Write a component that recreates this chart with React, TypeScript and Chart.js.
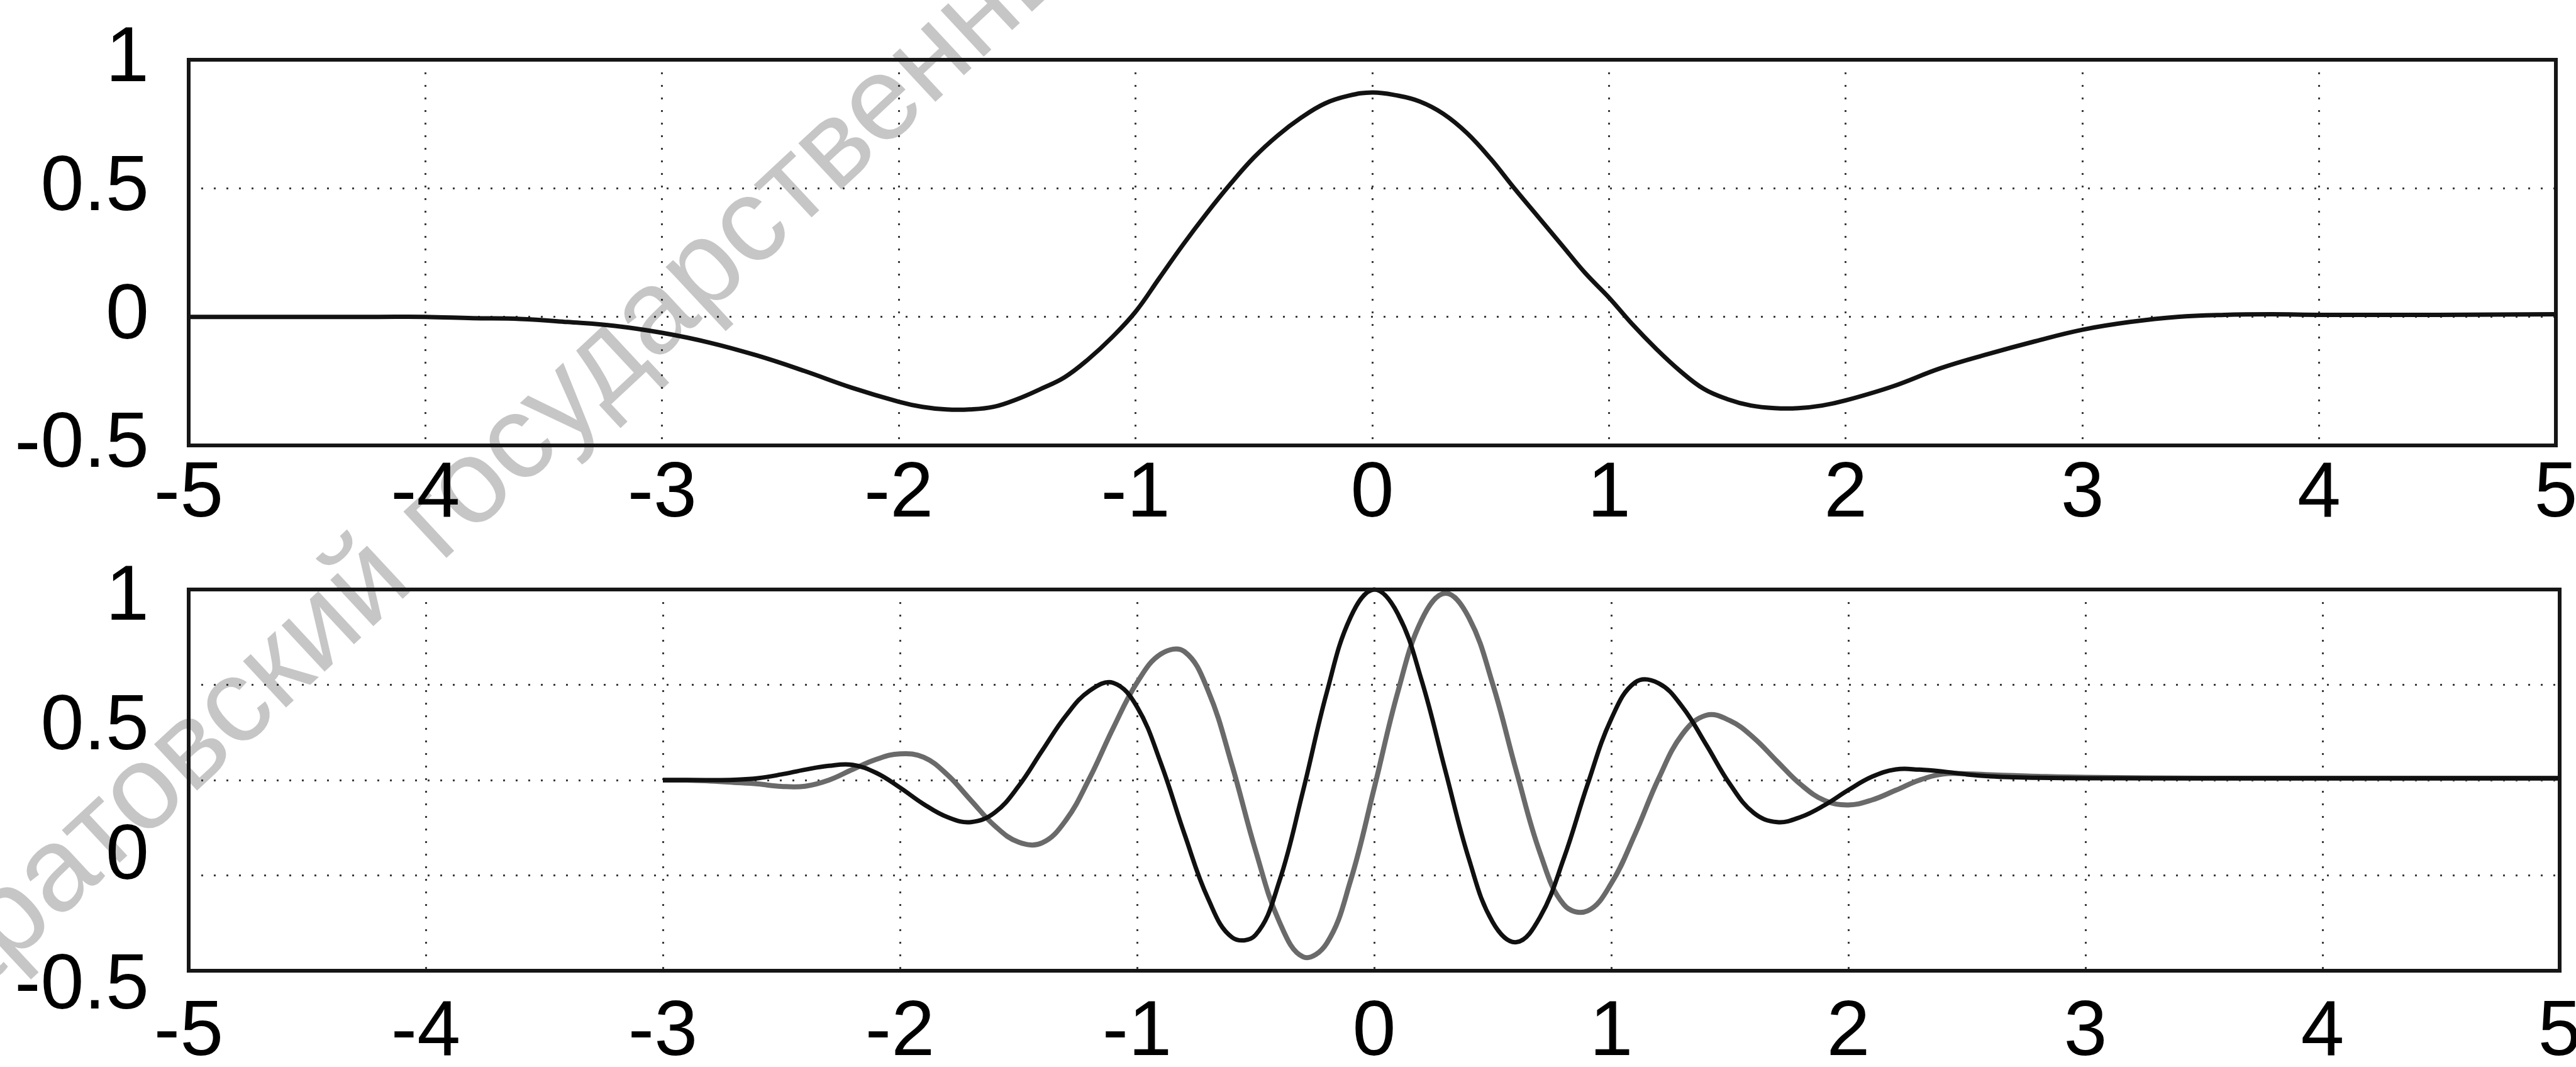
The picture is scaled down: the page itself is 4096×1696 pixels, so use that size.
import React, { useEffect, useRef } from "react";
import { Chart, registerables } from "chart.js";

Chart.register(...registerables);

// ---------- data ----------
const X_TICKS = [-5, -4, -3, -2, -1, 0, 1, 2, 3, 4, 5];
const TOP_Y_TICKS = [-0.5, 0, 0.5, 1];
const BOTTOM_Y_LABELS = [-0.5, 0, 0.5, 1];
const BOTTOM_Y_GRID = [-1, -0.5, 0, 0.5, 1];

// upper panel (Mexican-hat-like curve)
const TOP_X = [
  -5, -4.6, -4.2, -4, -3.8, -3.6, -3.4, -3.2, -3,
  -2.8, -2.6, -2.4, -2.2, -2,
  -1.9, -1.8, -1.7, -1.6, -1.5, -1.4, -1.3, -1.2, -1.1, -1,
  -0.9, -0.8, -0.7, -0.6, -0.5, -0.4, -0.3, -0.2, -0.1, 0,
  0.1, 0.2, 0.3, 0.4, 0.5, 0.6, 0.7, 0.8, 0.9, 1,
  1.1, 1.2, 1.3, 1.4, 1.5, 1.6, 1.7, 1.8, 1.9, 2,
  2.2, 2.4, 2.6, 2.8, 3,
  3.2, 3.4, 3.6, 3.8, 4,
  4.5, 5,
];
const TOP_Y = [
  0, 0, 0, 0, -0.005, -0.008, -0.02, -0.035, -0.062,
  -0.1, -0.15, -0.21, -0.275, -0.33,
  -0.35, -0.36, -0.36, -0.35, -0.32, -0.28, -0.235, -0.165, -0.08, 0.02,
  0.15, 0.28, 0.402, 0.516, 0.62, 0.705, 0.775, 0.83, 0.86, 0.873,
  0.862, 0.838, 0.79, 0.715, 0.615, 0.5, 0.39, 0.28, 0.17, 0.075,
  -0.03, -0.125, -0.21, -0.28, -0.32, -0.345, -0.355, -0.355, -0.345, -0.325,
  -0.27, -0.2, -0.145, -0.095, -0.05,
  -0.02, 0, 0.008, 0.01, 0.008,
  0.008, 0.01,
];

// lower panel (two oscillating curves)
const BOT_X = [
  -3, -2.9, -2.8, -2.7, -2.6, -2.5, -2.4, -2.3, -2.2, -2.1,
  -2, -1.9, -1.8, -1.7, -1.6, -1.5, -1.4, -1.3, -1.2, -1.1,
  -1, -0.9, -0.8, -0.7, -0.6, -0.5, -0.4, -0.3, -0.2, -0.1,
  0, 0.1, 0.2, 0.3, 0.4, 0.5, 0.6, 0.7, 0.8, 0.9,
  1, 1.1, 1.2, 1.3, 1.4, 1.5, 1.6, 1.7, 1.8, 1.9,
  2, 2.1, 2.2, 2.3, 2.4, 2.5, 2.6, 2.7, 2.8,
  3, 3.5, 4, 4.5, 5,
];
const BOT_DARK = [
  0, 0, 0, 0.002, 0.01, 0.03, 0.055, 0.075, 0.08, 0.038,
  -0.039, -0.126, -0.194, -0.22, -0.17, -0.032, 0.155, 0.338, 0.469, 0.51,
  0.384, 0.09, -0.283, -0.623, -0.824, -0.812, -0.531, -0.057, 0.459, 0.853,
  1.0, 0.872, 0.524, 0.051, -0.415, -0.745, -0.85, -0.718, -0.41, -0.023,
  0.321, 0.512, 0.508, 0.384, 0.187, -0.02, -0.171, -0.22, -0.193, -0.131,
  -0.052, 0.018, 0.056, 0.055, 0.045, 0.03, 0.02, 0.015, 0.012,
  0.01, 0.01, 0.01, 0.01, 0.01,
];
const BOT_LIGHT = [
  0, 0, -0.005, -0.012, -0.02, -0.033, -0.032, 0, 0.056, 0.109,
  0.138, 0.12, 0.028, -0.107, -0.24, -0.325, -0.329, -0.21, 0.011, 0.275,
  0.512, 0.661, 0.674, 0.468, 0.08, -0.37, -0.743, -0.927, -0.856, -0.529,
  -0.043, 0.463, 0.84, 0.98, 0.851, 0.504, 0.046, -0.383, -0.653, -0.686,
  -0.542, -0.284, 0.009, 0.241, 0.34, 0.312, 0.223, 0.098, -0.024, -0.107,
  -0.13, -0.104, -0.053, 0, 0.032, 0.033, 0.028, 0.024, 0.02,
  0.015, 0.01, 0.01, 0.01, 0.01,
];

const WATERMARK = "Саратовский государственный университет имени Н. Г. Чернышевского";

// ---------- styles ----------
const FONT_FAMILY = "'Liberation Sans', Arial, Helvetica, sans-serif";
const TICK_FONT = { family: FONT_FAMILY, size: 124, weight: "normal" as const };
const GRID_COLOR = "rgba(25,25,25,0.85)";
const GRID_DASH = [3, 17];

const boxPlugin = {
  id: "plotBox",
  afterDatasetsDraw(chart: any) {
    const { ctx, chartArea } = chart;
    const { left, top, right, bottom } = chartArea;
    ctx.save();
    ctx.strokeStyle = "#161616";
    ctx.lineWidth = 6;
    ctx.strokeRect(left, top, right - left, bottom - top);
    ctx.restore();
  },
};

const fixedTicks = (values: number[]) => (scale: any) => {
  scale.ticks = values.map((v) => ({ value: v }));
};

const xScale = (height: number, padding: number) => ({
  type: "linear",
  min: -5,
  max: 5,
  afterBuildTicks: fixedTicks(X_TICKS),
  ticks: {
    font: TICK_FONT,
    color: "#000",
    padding,
    maxRotation: 0,
    minRotation: 0,
    autoSkip: false,
    callback: (v: any) => String(v),
  },
  grid: { color: GRID_COLOR, lineWidth: 3, drawTicks: false },
  border: { display: false, dash: GRID_DASH },
  afterFit: (s: any) => {
    s.height = height;
    s.paddingLeft = 0;
    s.paddingRight = 0;
  },
});

function topConfig(): any {
  return {
    type: "line",
    data: {
      datasets: [
        {
          data: TOP_X.map((x, i) => ({ x, y: TOP_Y[i] })),
          borderColor: "#121212",
          borderWidth: 7,
          pointRadius: 0,
          tension: 0.4,
          fill: false,
          clip: 8,
        },
      ],
    },
    options: {
      animation: false,
      responsive: false,
      maintainAspectRatio: false,
      events: [],
      layout: { padding: { left: 0, right: 32, top: 95, bottom: 0 } },
      plugins: { legend: { display: false }, tooltip: { enabled: false } },
      scales: {
        x: xScale(162, 4),
        y: {
          type: "linear",
          min: -0.5,
          max: 1,
          afterBuildTicks: fixedTicks(TOP_Y_TICKS),
          ticks: { font: TICK_FONT, color: "#000", padding: 63, callback: (v: any) => String(v) },
          grid: { color: GRID_COLOR, lineWidth: 3, drawTicks: false },
          border: { display: false, dash: GRID_DASH },
          afterFit: (s: any) => {
            s.width = 300;
            s.paddingTop = 0;
            s.paddingBottom = 0;
          },
        },
      },
    },
    plugins: [boxPlugin],
  };
}

function bottomConfig(): any {
  return {
    type: "line",
    data: {
      datasets: [
        {
          data: BOT_X.map((x, i) => ({ x, y: BOT_DARK[i] })),
          borderColor: "#101010",
          borderWidth: 7,
          pointRadius: 0,
          tension: 0.4,
          fill: false,
          clip: 8,
          yAxisID: "y",
        },
        {
          data: BOT_X.map((x, i) => ({ x, y: BOT_LIGHT[i] })),
          borderColor: "#6a6a6a",
          borderWidth: 8,
          pointRadius: 0,
          tension: 0.4,
          fill: false,
          clip: 8,
          yAxisID: "y",
        },
      ],
    },
    options: {
      animation: false,
      responsive: false,
      maintainAspectRatio: false,
      events: [],
      layout: { padding: { left: 0, right: 26, top: 67, bottom: 0 } },
      plugins: { legend: { display: false }, tooltip: { enabled: false } },
      scales: {
        x: xScale(153, 25),
        yl: {
          type: "linear",
          position: "left",
          min: -0.4367,
          max: 1.0327,
          afterBuildTicks: fixedTicks(BOTTOM_Y_LABELS),
          ticks: { font: TICK_FONT, color: "#000", padding: 63, autoSkip: false, callback: (v: any) => String(v) },
          grid: { display: false, drawTicks: false },
          border: { display: false },
          afterFit: (s: any) => {
            s.width = 300;
            s.paddingTop = 0;
            s.paddingBottom = 0;
          },
        },
        y: {
          type: "linear",
          position: "right",
          min: -1,
          max: 1,
          afterBuildTicks: fixedTicks(BOTTOM_Y_GRID),
          ticks: { display: false },
          grid: { color: GRID_COLOR, lineWidth: 3, drawTicks: false },
          border: { display: false, dash: GRID_DASH },
          afterFit: (s: any) => {
            s.width = 0;
            s.paddingTop = 0;
            s.paddingBottom = 0;
          },
        },
      },
    },
    plugins: [boxPlugin],
  };
}

function ChartCanvas(props: { make: () => any; left: number; top: number; width: number; height: number }) {
  const ref = useRef<HTMLCanvasElement | null>(null);
  useEffect(() => {
    if (!ref.current) return;
    const chart = new Chart(ref.current, props.make());
    return () => chart.destroy();
  }, []);
  return (
    <canvas
      ref={ref}
      width={props.width}
      height={props.height}
      style={{
        position: "absolute",
        left: props.left,
        top: props.top,
        width: props.width,
        height: props.height,
        display: "block",
      }}
    />
  );
}

export default function App() {
  return (
    <div
      style={{
        position: "absolute",
        left: 0,
        top: 0,
        width: 4096,
        height: 1696,
        overflow: "hidden",
        background: "#ffffff",
      }}
    >
      <div
        style={{
          position: "absolute",
          left: -276,
          top: 1586,
          transformOrigin: "0 0",
          transform: "rotate(-43deg)",
          fontFamily: FONT_FAMILY,
          fontSize: 190,
          lineHeight: "190px",
          color: "#c6c6c6",
          whiteSpace: "nowrap",
        }}
      >
        {WATERMARK}
      </div>
      <ChartCanvas make={topConfig} left={0} top={0} width={4096} height={870} />
      <ChartCanvas make={bottomConfig} left={0} top={870} width={4096} height={826} />
    </div>
  );
}
